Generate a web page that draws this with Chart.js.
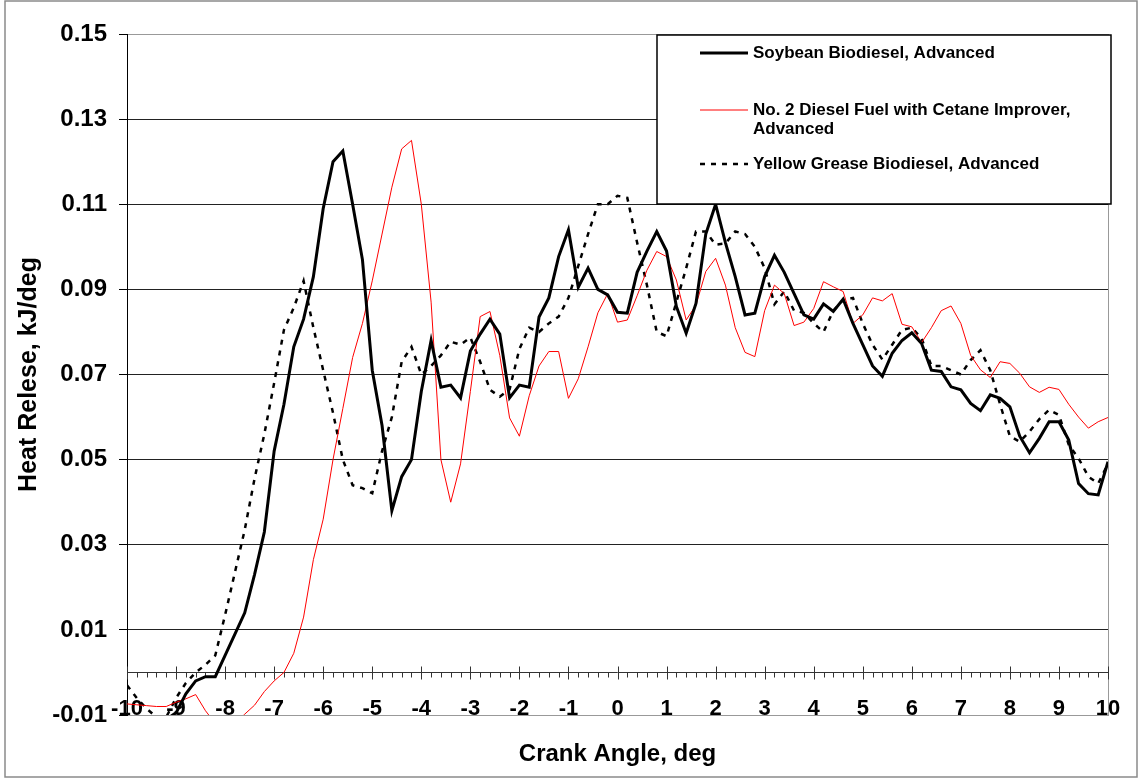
<!DOCTYPE html>
<html>
<head>
<meta charset="utf-8">
<title>Heat Release vs Crank Angle</title>
<script src="https://cdn.jsdelivr.net/npm/chart.js@4.4.0/dist/chart.umd.min.js"></script>
<style>
  html, body { margin: 0; padding: 0; background: #fff; }
  #wrap { width: 1138px; height: 778px; }
</style>
</head>
<body>
<div id="wrap"><canvas id="heatChart" width="1138" height="778"></canvas></div>
<script>
// Kąt obrotu wału (co 0.2 deg)
const crankAngles = [
  -10, -9.8, -9.6, -9.4, -9.2, -9, -8.8, -8.6, -8.4, -8.2,
  -8, -7.8, -7.6, -7.4, -7.2, -7, -6.8, -6.6, -6.4, -6.2,
  -6, -5.8, -5.6, -5.4, -5.2, -5, -4.8, -4.6, -4.4, -4.2,
  -4, -3.8, -3.6, -3.4, -3.2, -3, -2.8, -2.6, -2.4, -2.2,
  -2, -1.8, -1.6, -1.4, -1.2, -1, -0.8, -0.6, -0.4, -0.2,
  0, 0.2, 0.4, 0.6, 0.8, 1, 1.2, 1.4, 1.6, 1.8,
  2, 2.2, 2.4, 2.6, 2.8, 3, 3.2, 3.4, 3.6, 3.8,
  4, 4.2, 4.4, 4.6, 4.8, 5, 5.2, 5.4, 5.6, 5.8,
  6, 6.2, 6.4, 6.6, 6.8, 7, 7.2, 7.4, 7.6, 7.8,
  8, 8.2, 8.4, 8.6, 8.8, 9, 9.2, 9.4, 9.6, 9.8,
  10
];

const soybean = [
  -0.011, -0.012, -0.012, -0.012, -0.011, -0.0095, -0.005, -0.002, -0.001, -0.001,
  0.004, 0.009, 0.014, 0.023, 0.033, 0.052, 0.063, 0.0765, 0.083, 0.093,
  0.109, 0.120, 0.1225, 0.110, 0.097, 0.071, 0.058, 0.038, 0.046, 0.050,
  0.066, 0.078, 0.067, 0.0675, 0.0645, 0.0755, 0.0795, 0.083, 0.0795, 0.0645,
  0.0675, 0.067, 0.0835, 0.088, 0.0977, 0.104, 0.0905, 0.095, 0.090, 0.0887,
  0.0846, 0.0844, 0.094, 0.099, 0.1036, 0.099, 0.086, 0.0797, 0.0867, 0.103,
  0.110, 0.101, 0.093, 0.084, 0.0844, 0.093, 0.098, 0.094, 0.089, 0.084,
  0.083, 0.0866, 0.0848, 0.0877, 0.082, 0.077, 0.072, 0.0696, 0.075, 0.078,
  0.0798, 0.0773, 0.071, 0.0707, 0.0671, 0.0664, 0.0632, 0.0615, 0.0652, 0.0644,
  0.0624, 0.0555, 0.0516, 0.055, 0.0589, 0.0589, 0.0546, 0.0444, 0.042, 0.0417,
  0.0495
];

const dieselCetane = [
  -0.0074, -0.0076, -0.0078, -0.008, -0.008, -0.007, -0.0062, -0.0052, -0.009, -0.012,
  -0.013, -0.012, -0.0098, -0.0077, -0.0045, -0.002, 0.0, 0.0045, 0.013, 0.0265,
  0.036, 0.050, 0.062, 0.074, 0.082, 0.092, 0.103, 0.114, 0.123, 0.125,
  0.110, 0.087, 0.050, 0.040, 0.049, 0.066, 0.0836, 0.0848, 0.0745, 0.0598,
  0.0555, 0.065, 0.072, 0.0754, 0.0754, 0.0644, 0.069, 0.0765, 0.0845, 0.089,
  0.0823, 0.0828, 0.0885, 0.0945, 0.0989, 0.0977, 0.0922, 0.0828, 0.0863, 0.0942,
  0.0973, 0.091, 0.081, 0.0752, 0.0742, 0.085, 0.091, 0.089, 0.0815, 0.0823,
  0.0855, 0.0918, 0.0906, 0.0895, 0.082, 0.084, 0.088, 0.0873, 0.089, 0.0818,
  0.0812, 0.0775, 0.081, 0.085, 0.0861, 0.082, 0.0745, 0.0711, 0.0693, 0.073,
  0.0726, 0.0703, 0.0671, 0.0658, 0.067, 0.0665, 0.063, 0.060, 0.0574, 0.0589,
  0.0599
];

const yellowGrease = [
  -0.003, -0.006, -0.0085, -0.0105, -0.0105, -0.006, -0.0025, 0.0, 0.0018, 0.004,
  0.0135, 0.0235, 0.0335, 0.0455, 0.056, 0.068, 0.0805, 0.0857, 0.092, 0.081,
  0.071, 0.061, 0.050, 0.044, 0.0433, 0.0421, 0.052, 0.060, 0.073, 0.0765,
  0.070, 0.072, 0.0745, 0.0777, 0.077, 0.0787, 0.073, 0.0664, 0.0648, 0.0665,
  0.076, 0.081, 0.080, 0.082, 0.0836, 0.088, 0.0955, 0.103, 0.110, 0.110,
  0.112, 0.1115, 0.101, 0.091, 0.080, 0.079, 0.087, 0.095, 0.1036, 0.1036,
  0.1005, 0.1008, 0.1036, 0.103, 0.100, 0.095, 0.0865, 0.0895, 0.085, 0.0845,
  0.082, 0.080, 0.085, 0.0875, 0.088, 0.082, 0.077, 0.0735, 0.077, 0.0805,
  0.081, 0.0785, 0.072, 0.072, 0.071, 0.070, 0.0734, 0.0757, 0.071, 0.063,
  0.0555, 0.0542, 0.0566, 0.0595, 0.0617, 0.0605, 0.0535, 0.0503, 0.046, 0.0444,
  0.049
];

const seriesNames = [
  "Soybean Biodiesel, Advanced",
  "No. 2 Diesel Fuel with Cetane Improver, Advanced",
  "Yellow Grease Biodiesel, Advanced"
];
// Tekst legendy w wierszach (jak w oryginale)
const legendLines = [
  ["Soybean Biodiesel, Advanced"],
  ["No. 2 Diesel Fuel with Cetane Improver,", "Advanced"],
  ["Yellow Grease Biodiesel, Advanced"]
];

const yTicks = [-0.01, 0.01, 0.03, 0.05, 0.07, 0.09, 0.11, 0.13, 0.15];
const xTicks = [-10, -9, -8, -7, -6, -5, -4, -3, -2, -1, 0, 1, 2, 3, 4, 5, 6, 7, 8, 9, 10];

const FONT = "'Liberation Sans', Arial, sans-serif";

// Ramka wykresu i obszaru danych
const framePlugin = {
  id: "frame",
  beforeDraw(chart) {
    const c = chart.ctx, a = chart.chartArea;
    c.save();
    c.fillStyle = "#fff";
    c.fillRect(0, 0, chart.width, chart.height);
    c.strokeStyle = "#8a8a8a";
    c.lineWidth = 1.5;
    c.strokeRect(5, 1, chart.width - 6, chart.height - 2);
    c.strokeStyle = "#999";
    c.lineWidth = 1;
    c.strokeRect(a.left + 0.5, a.top + 0.5, a.right - a.left, a.bottom - a.top);
    c.restore();
  }
};

// Oś X przechodząca przez y = 0 (z podziałką główną i pomocniczą)
const zeroAxisPlugin = {
  id: "zeroAxis",
  beforeDatasetsDraw(chart) {
    const c = chart.ctx, x = chart.scales.x, y = chart.scales.y;
    const y0 = Math.round(y.getPixelForValue(0)) + 0.5;
    c.save();
    c.strokeStyle = "#333";
    c.lineWidth = 1;
    c.beginPath();
    c.moveTo(x.left, y0);
    c.lineTo(x.right, y0);
    crankAngles.forEach(v => {
      const px = Math.round(x.getPixelForValue(v)) + 0.5;
      c.moveTo(px, y0);
      c.lineTo(px, y0 + 5);
    });
    xTicks.forEach(v => {
      const px = Math.round(x.getPixelForValue(v)) + 0.5;
      c.moveTo(px, y0 - 6);
      c.lineTo(px, y0 + 7);
    });
    c.stroke();
    c.restore();
  }
};

// Legenda w ramce, w prawym górnym rogu
const legendPlugin = {
  id: "boxLegend",
  afterDatasetsDraw(chart) {
    const c = chart.ctx, a = chart.chartArea;
    const bx = a.right - 451, by = a.top + 1, bw = 454, bh = 169;
    const rowOffsets = [18, 75, 129];
    c.save();
    c.fillStyle = "#fff";
    c.fillRect(bx, by, bw, bh);
    c.strokeStyle = "#000";
    c.lineWidth = 1.5;
    c.strokeRect(bx, by, bw, bh);
    c.font = "bold 17px " + FONT;
    c.textBaseline = "middle";
    chart.data.datasets.forEach((ds, i) => {
      const ry = by + rowOffsets[i];
      c.strokeStyle = ds.borderColor;
      c.lineWidth = ds.borderWidth;
      c.setLineDash(ds.borderDash || []);
      c.beginPath();
      c.moveTo(bx + 43, ry);
      c.lineTo(bx + 91, ry);
      c.stroke();
      c.setLineDash([]);
      c.fillStyle = "#000";
      legendLines[i].forEach((t, k) => c.fillText(t, bx + 96, ry + k * 19));
    });
    c.restore();
  }
};

function initChart() {
  const ctx = document.getElementById("heatChart").getContext("2d");
  new Chart(ctx, {
    type: "line",
    data: {
      labels: crankAngles,
      datasets: [
        { label: seriesNames[0], data: soybean, borderColor: "#000", borderWidth: 3 },
        { label: seriesNames[1], data: dieselCetane, borderColor: "#ff0000", borderWidth: 1 },
        { label: seriesNames[2], data: yellowGrease, borderColor: "#000", borderWidth: 2.5, borderDash: [5, 6] }
      ]
    },
    options: {
      responsive: false,
      animation: false,
      devicePixelRatio: 1,
      layout: { padding: { left: 0, top: 34, right: 30, bottom: 0 } },
      elements: {
        point: { radius: 0, hoverRadius: 0 },
        line: { tension: 0, fill: false, borderCapStyle: "butt", borderJoinStyle: "miter" }
      },
      plugins: { legend: { display: false }, tooltip: { enabled: false } },
      scales: {
        x: {
          type: "linear",
          position: "bottom",
          min: -10,
          max: 10,
          afterFit: s => { s.height = 63; },
          afterBuildTicks: s => { s.ticks = xTicks.map(v => ({ value: v })); },
          grid: { display: false, drawTicks: false },
          border: { display: false },
          ticks: {
            autoSkip: false,
            maxRotation: 0,
            mirror: true,
            padding: -7,
            color: "#000",
            font: { family: FONT, size: 22, weight: "bold" },
            callback: v => String(v)
          },
          title: {
            display: true,
            text: "Crank Angle, deg",
            color: "#000",
            font: { family: FONT, size: 24, weight: "bold" },
            padding: { top: 0, bottom: 9 }
          }
        },
        y: {
          min: -0.01,
          max: 0.15,
          afterFit: s => { s.width = 127; },
          afterBuildTicks: s => { s.ticks = yTicks.map(v => ({ value: v })); },
          grid: {
            color: c => (c.tick && (c.tick.value === -0.01 || c.tick.value === 0.15)) ? "#999" : "#222",
            lineWidth: 1,
            tickLength: 8,
            tickColor: "#000"
          },
          border: { display: true, color: "#000", width: 1 },
          ticks: {
            padding: 12,
            color: "#000",
            font: { family: FONT, size: 24, weight: "bold" },
            callback: v => v.toFixed(2)
          },
          title: {
            display: true,
            text: "Heat Relese, kJ/deg",
            color: "#000",
            font: { family: FONT, size: 25, weight: "bold" },
            padding: { top: 14, bottom: 0 }
          }
        }
      }
    },
    plugins: [framePlugin, zeroAxisPlugin, legendPlugin]
  });
}

document.addEventListener("DOMContentLoaded", initChart);
</script>
</body>
</html>
